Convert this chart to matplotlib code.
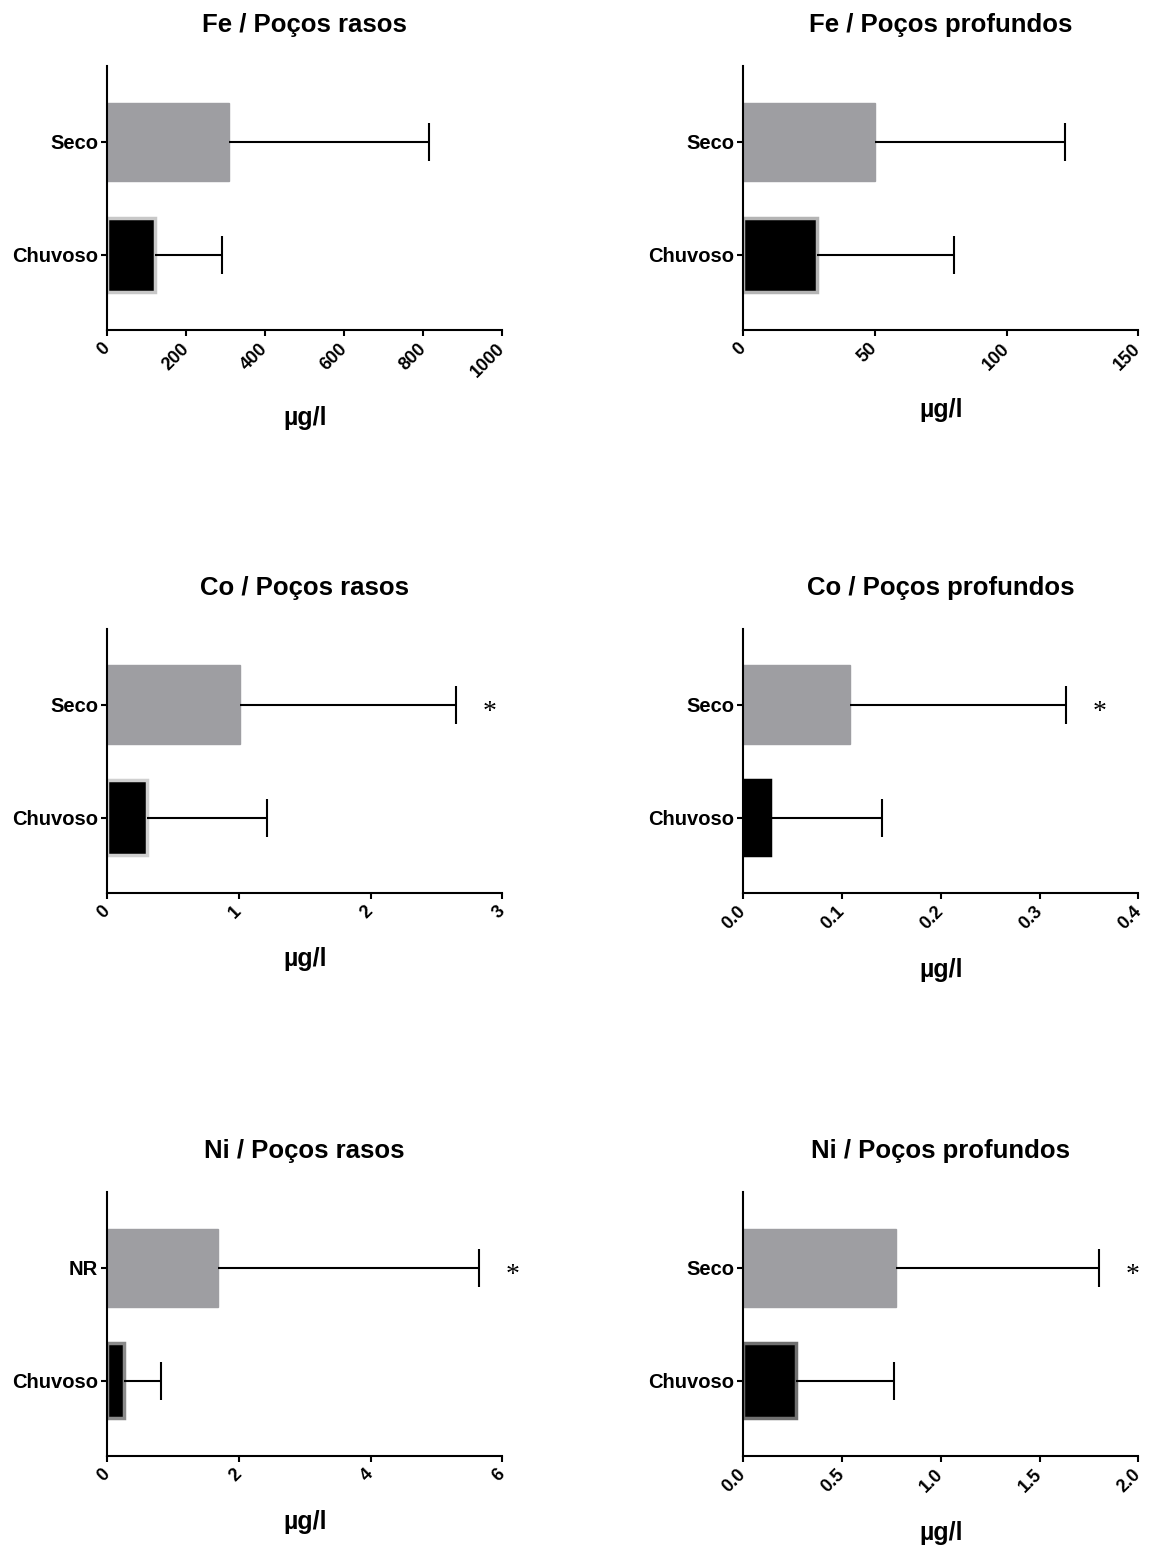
import matplotlib
matplotlib.use("Agg")
import matplotlib.pyplot as plt

plt.rcParams['font.family'] = ['Liberation Sans', 'DejaVu Sans']
plt.rcParams['font.weight'] = 'bold'

# dados (médias e desvio superior)
titles = ["Fe / Poços rasos", "Fe / Poços profundos",
          "Co / Poços rasos", "Co / Poços profundos",
          "Ni / Poços rasos", "Ni / Poços profundos"]
labels_seco = ["Seco", "Seco", "Seco", "Seco", "NR", "Seco"]
seco_mean = [309, 50, 1.01, 0.108, 1.69, 0.773]
seco_upper = [813, 122, 2.65, 0.327, 5.64, 1.80]
chuvoso_mean = [121, 28, 0.30, 0.027, 0.26, 0.268]
chuvoso_upper = [291, 80, 1.215, 0.141, 0.82, 0.763]
xmax = [1000, 150, 3, 0.4, 6, 2.0]
xticks = [[0, 200, 400, 600, 800, 1000],
          [0, 50, 100, 150],
          [0, 1, 2, 3],
          [0.0, 0.1, 0.2, 0.3, 0.4],
          [0, 2, 4, 6],
          [0.0, 0.5, 1.0, 1.5, 2.0]]
tick_fmt = ["{:.0f}", "{:.0f}", "{:.0f}", "{:.1f}", "{:.0f}", "{:.1f}"]
significant = [False, False, True, True, True, True]

chuvoso_edge = ['#c8c8c8', '#b4b4b4', '#d0d0d0', '#000000', '#8a8a8a', '#707070']
gray = '#9e9ea2'

fig = plt.figure(figsize=(11.53, 15.46), dpi=100)

lefts = [0.0928, 0.6444]
bottoms = [0.7865, 0.4224, 0.0582]

for i in range(6):
    row, col = divmod(i, 2)
    ax = fig.add_axes([lefts[col], bottoms[row], 0.3430, 0.1705])

    ax.barh(1, seco_mean[i], height=0.69, color=gray, edgecolor=gray, linewidth=1, zorder=2)
    ax.barh(0, chuvoso_mean[i], height=0.66, color='black',
            edgecolor=chuvoso_edge[i], linewidth=2.5, zorder=2)

    means = [chuvoso_mean[i], seco_mean[i]]
    uppers = [chuvoso_upper[i], seco_upper[i]]
    errs = [u - m for u, m in zip(uppers, means)]
    ax.errorbar(means, [0, 1], xerr=[[0, 0], errs], fmt='none',
                ecolor='black', elinewidth=1.5, capsize=0, zorder=3)
    ax.plot(uppers, [0, 1], linestyle='none', marker='|', markersize=27,
            markeredgewidth=1.5, color='black', zorder=3)

    if significant[i]:
        ax.text(seco_upper[i] + xmax[i] * 0.085, 0.87, "*", fontsize=20,
                family='Liberation Serif', fontweight='normal',
                ha='center', va='baseline')

    ax.set_xlim(0, xmax[i])
    ax.set_ylim(-0.664, 1.664)
    ax.set_yticks([0, 1])
    ax.set_yticklabels(["Chuvoso", labels_seco[i]], fontsize=14.5, fontweight='bold')
    ax.set_xticks(xticks[i])
    ax.set_xticklabels([tick_fmt[i].format(v) for v in xticks[i]], fontsize=13,
                       fontweight='bold', rotation=45, ha='right', va='center',
                       rotation_mode='anchor')
    ax.tick_params(axis='x', direction='out', length=4.5, width=1.5, pad=7)
    ax.tick_params(axis='y', direction='out', length=4.5, width=1.5, pad=2)

    for side in ['top', 'right']:
        ax.spines[side].set_visible(False)
    for side in ['left', 'bottom']:
        ax.spines[side].set_linewidth(1.5)
        ax.spines[side].set_zorder(4)

    ax.set_xlabel("µg/l", fontsize=18, fontweight='bold', labelpad=18)
    ax.set_title(titles[i], fontsize=18.5, fontweight='bold', pad=25)

fig.savefig("out.png", dpi=100)
